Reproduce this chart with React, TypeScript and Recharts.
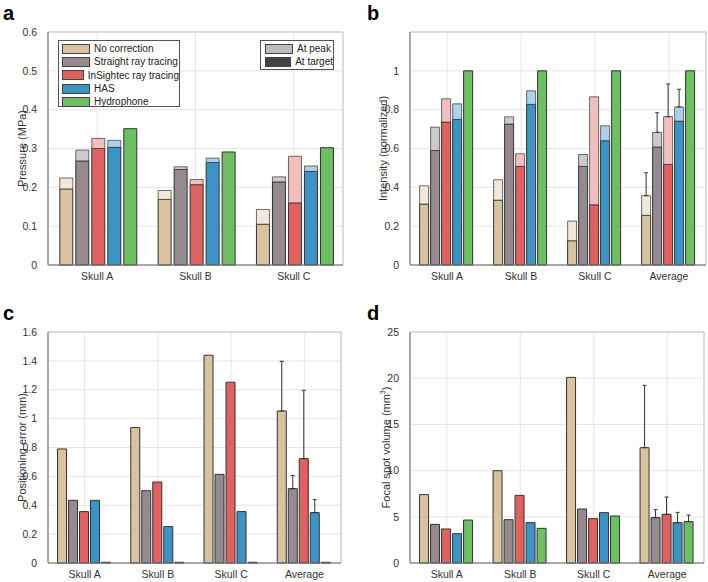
import React from 'react';
import { BarChart, Bar, XAxis, YAxis, CartesianGrid, ErrorBar, ReferenceArea } from 'recharts';

const skulls3 = ['Skull A', 'Skull B', 'Skull C'];
const skulls4 = ['Skull A', 'Skull B', 'Skull C', 'Average'];
const methods = ['No correction', 'Straight ray tracing', 'InSightec ray tracing', 'HAS', 'Hydrophone'];

// one row per method, one value per category
const pressureTarget = [
  [0.196, 0.169, 0.105],
  [0.268, 0.246, 0.214],
  [0.3, 0.207, 0.16],
  [0.303, 0.264, 0.241],
  [0.351, 0.291, 0.302],
];
const pressurePeak = [
  [0.224, 0.192, 0.143],
  [0.296, 0.253, 0.227],
  [0.326, 0.22, 0.28],
  [0.321, 0.275, 0.255],
  [0.351, 0.291, 0.302],
];

const intensityTarget = [
  [0.314, 0.334, 0.125, 0.256],
  [0.59, 0.726, 0.508, 0.608],
  [0.736, 0.508, 0.31, 0.518],
  [0.75, 0.827, 0.64, 0.741],
  [1, 1, 1, 1],
];
const intensityPeak = [
  [0.408, 0.439, 0.226, 0.357],
  [0.71, 0.763, 0.569, 0.683],
  [0.856, 0.573, 0.866, 0.764],
  [0.83, 0.897, 0.717, 0.814],
  [1, 1, 1, 1],
];
const intensityErr = [0.118, 0.101, 0.168, 0.091, 0];

const positionError = [
  [0.79, 0.938, 1.439, 1.053],
  [0.434, 0.501, 0.614, 0.515],
  [0.356, 0.561, 1.252, 0.723],
  [0.434, 0.252, 0.356, 0.349],
  [0.005, 0.005, 0.005, 0.005],
];
const positionErr = [0.344, 0.092, 0.473, 0.09, 0];

const focalVolume = [
  [7.4, 9.99, 20.09, 12.48],
  [4.18, 4.69, 5.84, 4.91],
  [3.68, 7.32, 4.8, 5.27],
  [3.17, 4.37, 5.45, 4.37],
  [4.65, 3.75, 5.09, 4.47],
];
const focalVolumeErr = [6.75, 0.86, 1.87, 1.11, 0.72];

const pressureTicks = [0, 0.1, 0.2, 0.3, 0.4, 0.5, 0.6];
const intensityTicks = [0, 0.2, 0.4, 0.6, 0.8, 1];
const positionTicks = [0, 0.2, 0.4, 0.6, 0.8, 1, 1.2, 1.4, 1.6];
const volumeTicks = [0, 5, 10, 15, 20, 25];

const dark = ['#d9c2a0', '#968990', '#de6262', '#3d93c4', '#6ebe64'];
const light = ['#f1e8db', '#cfc8cc', '#f2bfbf', '#abd2e8', '#6ebe64'];

const FONT = '"Liberation Sans", Arial, Helvetica, sans-serif';
const EDGE = '#333';

const stackedRows = (cats: string[], target: number[][], peak: number[][], err?: number[]) =>
  cats.map((cat, j) => {
    const row: any = { cat };
    target.forEach((t, i) => {
      row['t' + i] = t[j];
      row['d' + i] = peak[i][j] - t[j];
      row['e' + i] = err && cat === 'Average' && err[i] > 0 ? [0, err[i]] : null;
    });
    return row;
  });

const simpleRows = (cats: string[], values: number[][], err: number[]) =>
  cats.map((cat, j) => {
    const row: any = { cat };
    values.forEach((v, i) => {
      row['v' + i] = v[j];
      row['e' + i] = cat === 'Average' && err[i] > 0 ? [0, err[i]] : null;
    });
    return row;
  });

const pressureRows = stackedRows(skulls3, pressureTarget, pressurePeak);
const intensityRows = stackedRows(skulls4, intensityTarget, intensityPeak, intensityErr);
const positionRows = simpleRows(skulls4, positionError, positionErr);
const volumeRows = simpleRows(skulls4, focalVolume, focalVolumeErr);

type PanelProps = {
  left: number;
  top: number;
  height: number;
  margin: { top: number; right: number; bottom: number; left: number };
  yWidth: number;
  xHeight: number;
  data: any[];
  domain: [number, number];
  ticks: number[];
  label: React.ReactNode;
  labelX: number;
  stacked: boolean;
  catGap: string;
  barGap: number;
};

function Panel(p: PanelProps) {
  const midY = p.margin.top + (p.height - p.margin.top - p.margin.bottom - p.xHeight) / 2;
  const err = (i: number) => (
    <ErrorBar dataKey={'e' + i} width={2} stroke="#333" strokeWidth={1} direction="y" />
  );
  const bars: React.ReactNode[] = [];
  if (p.stacked) {
    for (let i = 0; i < 4; i++) {
      bars.push(
        <Bar key={'t' + i} dataKey={'t' + i} stackId={'s' + i} fill={dark[i]} stroke={EDGE} strokeWidth={1} isAnimationActive={false} />
      );
      bars.push(
        <Bar key={'d' + i} dataKey={'d' + i} stackId={'s' + i} fill={light[i]} stroke={EDGE} strokeOpacity={0.7} strokeWidth={1} isAnimationActive={false}>
          {err(i)}
        </Bar>
      );
    }
    bars.push(
      <Bar key="t4" dataKey="t4" stackId="s4" fill={dark[4]} stroke={EDGE} strokeWidth={1} isAnimationActive={false} />
    );
  } else {
    for (let i = 0; i < 5; i++) {
      bars.push(
        <Bar key={'v' + i} dataKey={'v' + i} fill={dark[i]} stroke={EDGE} strokeWidth={1} isAnimationActive={false}>
          {err(i)}
        </Bar>
      );
    }
  }
  return (
    <div style={{ position: 'absolute', left: p.left, top: p.top }}>
      <BarChart
        width={354}
        height={p.height}
        data={p.data}
        margin={p.margin}
        barCategoryGap={p.catGap}
        barGap={p.barGap}
        style={{ fontFamily: FONT }}
      >
        <CartesianGrid stroke="#e6e6e6" />
        <ReferenceArea y1={p.domain[0]} y2={p.domain[1]} fill="none" fillOpacity={0} stroke="#c4c4c4" strokeWidth={1} />
        <XAxis
          dataKey="cat"
          height={p.xHeight}
          tickLine={false}
          tickMargin={2}
          axisLine={{ stroke: '#777' }}
          tick={{ fontSize: 10.5, fill: '#333' }}
        />
        <YAxis
          type="number"
          width={p.yWidth}
          domain={p.domain}
          ticks={p.ticks}
          interval={0}
          tickLine={false}
          tickMargin={5}
          axisLine={{ stroke: '#777' }}
          tick={{ fontSize: 10.5, fill: '#333' }}
          tickFormatter={(v: number) => String(v)}
          label={{
            content: () => (
              <text
                x={p.labelX}
                y={midY}
                transform={`rotate(-90, ${p.labelX}, ${midY})`}
                textAnchor="middle"
                dominantBaseline="central"
                fontSize={11}
                fill="#333"
                fontFamily={FONT}
              >
                {p.label}
              </text>
            ),
          }}
        />
        {bars}
      </BarChart>
    </div>
  );
}

function LegendRow({ color, text }: { color: string; text: string }) {
  return (
    <div style={{ display: 'flex', alignItems: 'center', height: 13.3 }}>
      <div style={{ width: 26, height: 8, background: color, border: '1px solid #444', marginRight: 4 }} />
      <span style={{ fontSize: 10, color: '#222', whiteSpace: 'nowrap' }}>{text}</span>
    </div>
  );
}

export default function App() {
  return (
    <div style={{ position: 'absolute', left: 0, top: 0, width: 708, height: 582, background: '#fff', fontFamily: FONT }}>
      <Panel
        left={0}
        top={0}
        height={290}
        margin={{ top: 32, right: 11, bottom: 5, left: 0 }}
        yWidth={48}
        xHeight={20}
        data={pressureRows}
        domain={[0, 0.6]}
        ticks={pressureTicks}
        label="Pressure (MPa)"
        labelX={22}
        stacked
        catGap="12%"
        barGap={3}
      />
      <Panel
        left={354}
        top={0}
        height={290}
        margin={{ top: 32, right: 2, bottom: 5, left: 0 }}
        yWidth={56}
        xHeight={20}
        data={intensityRows}
        domain={[0, 1.2]}
        ticks={intensityTicks}
        label="Intensity (normalized)"
        labelX={29}
        stacked
        catGap="13%"
        barGap={2}
      />
      <Panel
        left={0}
        top={290}
        height={292}
        margin={{ top: 42, right: 13, bottom: 0, left: 0 }}
        yWidth={48}
        xHeight={19}
        data={positionRows}
        domain={[0, 1.6]}
        ticks={positionTicks}
        label="Positioning error (mm)"
        labelX={22}
        stacked={false}
        catGap="13%"
        barGap={2}
      />
      <Panel
        left={354}
        top={290}
        height={292}
        margin={{ top: 42, right: 4, bottom: 0, left: 0 }}
        yWidth={56}
        xHeight={19}
        data={volumeRows}
        domain={[0, 25]}
        ticks={volumeTicks}
        label={
          <>
            Focal spot volume (mm
            <tspan dy={-4} fontSize={7}>3</tspan>
            <tspan dy={4}>)</tspan>
          </>
        }
        labelX={32}
        stacked={false}
        catGap="13%"
        barGap={2}
      />

      {/* method legend, panel a */}
      <div
        style={{
          position: 'absolute', left: 58, top: 40, width: 122, height: 67,
          border: '1px solid #555', background: '#fff', padding: '1px 0 0 3px', boxSizing: 'border-box',
        }}
      >
        {methods.map((m, i) => (
          <LegendRow key={m} color={dark[i]} text={m} />
        ))}
      </div>
      <div
        style={{
          position: 'absolute', left: 260, top: 40, width: 74, height: 30,
          border: '1px solid #555', background: '#fff', padding: '1px 0 0 4px', boxSizing: 'border-box',
        }}
      >
        <LegendRow color="#bdbdbd" text="At peak" />
        <LegendRow color="#444" text="At target" />
      </div>

      <svg width={708} height={582} style={{ position: 'absolute', left: 0, top: 0, pointerEvents: 'none' }}>
        <g fontFamily={FONT} fontWeight="bold" fontSize={20} fill="#000">
          <text x={3} y={20}>a</text>
          <text x={367} y={20}>b</text>
          <text x={3} y={320}>c</text>
          <text x={367} y={320}>d</text>
        </g>
      </svg>
    </div>
  );
}
